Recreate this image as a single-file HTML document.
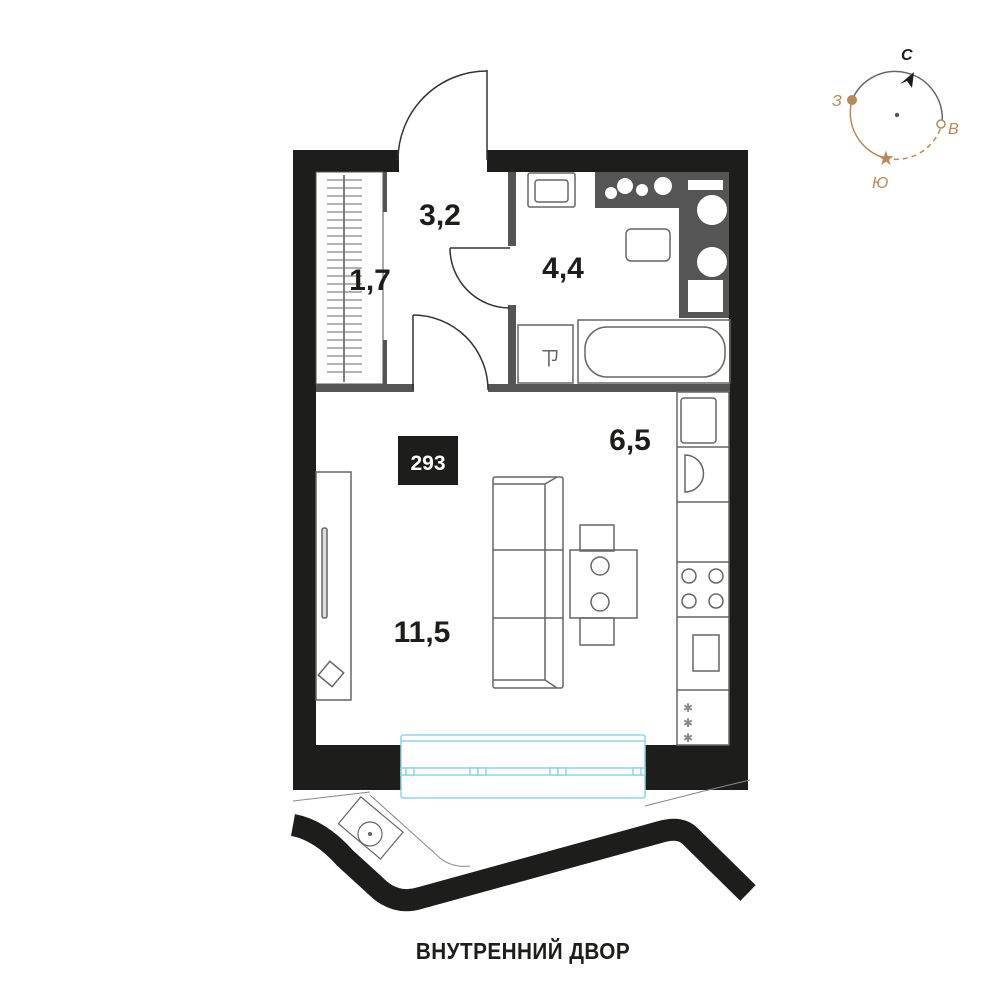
<!DOCTYPE html>
<html><head><meta charset="utf-8"><style>
html,body{margin:0;padding:0;background:#fff;width:1000px;height:1000px;overflow:hidden}
svg{display:block}
</style></head><body>
<svg width="1000" height="1000" viewBox="0 0 1000 1000" xmlns="http://www.w3.org/2000/svg">
<rect width="1000" height="1000" fill="#fff"/>
<g fill="#1d1d1b">
<rect x="293" y="150" width="106" height="22"/>
<rect x="487" y="150" width="261" height="22"/>
<rect x="293" y="150" width="23" height="640"/>
<rect x="729" y="150" width="19" height="640"/>
<rect x="293" y="745" width="108" height="45"/>
<rect x="644" y="745" width="104" height="45"/>
</g>
<g fill="#555">
<rect x="508" y="172" width="8" height="74"/>
<rect x="508" y="305" width="8" height="82"/>
<rect x="508" y="384" width="222" height="8"/>
<rect x="316" y="384" width="98" height="8"/>
<rect x="488" y="384" width="28" height="8"/>
<rect x="383" y="172" width="4" height="40"/>
<rect x="383" y="340" width="4" height="45"/>
</g>
<g fill="none" stroke="#333" stroke-width="1.5">
<line x1="487" y1="70" x2="487" y2="160"/>
<path d="M398 160 A89 89 0 0 1 487 71"/>
<path d="M450 248 A60 60 0 0 0 510 308"/>
<line x1="450" y1="248" x2="510" y2="248"/>
<line x1="413" y1="315" x2="413" y2="390"/>
<path d="M413 315 A75 75 0 0 1 488 390"/>
</g>
<g stroke="#555" stroke-width="1" fill="none">
<rect x="316" y="172" width="67" height="212"/>
<line x1="344" y1="175" x2="344" y2="382" stroke-width="1.5"/>
</g>
<g stroke="#666" stroke-width="1">
<path d="M327 180H362M327 188H362M327 196H362M327 204H362M327 212H362M327 220H362M327 228H362M327 236H362M327 244H362M327 252H362M327 260H362M327 268H362M327 276H362M327 284H362M327 292H362M327 300H362M327 308H362M327 316H362M327 324H362M327 332H362M327 340H362M327 348H362M327 356H362M327 364H362M327 372H362"/>
</g>
<g fill="none" stroke="#666" stroke-width="1.5">
<rect x="528" y="173" width="47" height="34" rx="2"/>
<rect x="535" y="180" width="33" height="22" rx="3"/>
<rect x="626" y="229" width="44" height="32" rx="5"/>
<rect x="518" y="325" width="55" height="58"/>
<rect x="578" y="320" width="152" height="63"/>
<rect x="585" y="327" width="140" height="50" rx="22"/>
</g>
<rect x="595" y="172" width="84" height="36" fill="#555"/>
<rect x="679" y="172" width="50" height="146" fill="#555"/>
<rect x="688" y="180" width="35" height="10" fill="#fff"/>
<rect x="688" y="280" width="35" height="32" fill="#fff"/>
<g fill="#fff">
<circle cx="611" cy="193" r="6"/><circle cx="625" cy="186" r="8"/>
<circle cx="642" cy="190" r="6"/><circle cx="663" cy="186" r="9"/>
<circle cx="712" cy="210" r="15"/><circle cx="712" cy="262" r="15"/>
</g>
<text x="540" y="365" font-family="Liberation Sans" font-size="20" fill="#666">ㄗ</text>
<g fill="none" stroke="#666" stroke-width="1.5">
<rect x="677" y="392" width="52" height="353"/>
<line x1="677" y1="447" x2="729" y2="447"/>
<line x1="677" y1="502" x2="729" y2="502"/>
<line x1="677" y1="562" x2="729" y2="562"/>
<line x1="677" y1="617" x2="729" y2="617"/>
<line x1="677" y1="690" x2="729" y2="690"/>
<rect x="681" y="398" width="35" height="45" rx="3"/>
<circle cx="689" cy="576" r="7"/><circle cx="716" cy="576" r="7"/>
<circle cx="689" cy="601" r="7"/><circle cx="716" cy="601" r="7"/>
<rect x="693" y="635" width="26" height="36"/>
<path d="M685 455 A18 18 0 0 1 685 492Z"/>
</g>
<g fill="#888" font-family="Liberation Sans" font-size="12"><text x="683" y="712">✱</text><text x="683" y="727">✱</text><text x="683" y="742">✱</text></g>
<g fill="none" stroke="#666" stroke-width="1.5">
<rect x="316" y="472" width="35" height="228"/>
<rect x="322" y="528" width="5" height="90" rx="2" fill="#ddd"/>
<rect x="322" y="665" width="18" height="18" transform="rotate(40 331 674)"/>
<rect x="493" y="477" width="70" height="211" rx="2"/>
<path d="M493 484H545L557 477M545 484V680L557 688M493 680H545"/>
<line x1="493" y1="550" x2="563" y2="550"/>
<line x1="493" y1="618" x2="563" y2="618"/>
<rect x="580" y="525" width="34" height="26"/>
<rect x="580" y="618" width="34" height="27"/>
<rect x="570" y="550" width="67" height="68"/>
<circle cx="600" cy="566" r="9"/><circle cx="600" cy="602" r="9"/>
</g>
<rect x="398" y="436" width="60" height="49" fill="#1d1d1b"/>
<text x="428" y="470" text-anchor="middle" font-family="Liberation Sans" font-weight="bold" font-size="21" fill="#fff">293</text>
<g font-family="Liberation Sans" font-weight="bold" font-size="30" fill="#1d1d1b" text-anchor="middle">
<text x="440" y="225">3,2</text>
<text x="370" y="290">1,7</text>
<text x="563" y="278">4,4</text>
<text x="630" y="450">6,5</text>
<text x="422" y="642">11,5</text>
</g>
<!-- balcony thin outlines -->
<g fill="none" stroke="#888" stroke-width="1">
<path d="M293 801 L370 792"/>
<path d="M370 795 L440 858 Q452 868 470 866"/>
<path d="M645 806 L700 792 L750 780"/>
</g>
<g fill="none" stroke="#666" stroke-width="1.2">
<rect x="343" y="810" width="55" height="35" transform="rotate(40 370 828)"/>
<circle cx="370" cy="834" r="12"/>
<circle cx="370" cy="834" r="1.5" fill="#666"/>
</g>
<path d="M293 825 Q320 830 345 858 L380 890 Q398 905 420 898 L660 832 Q680 826 690 836 L748 893" fill="none" stroke="#1d1d1b" stroke-width="22"/>
<g fill="#fff" stroke="#8fd3ea" stroke-width="1.5">
<rect x="401" y="735" width="244" height="63" rx="2"/>
<line x1="401" y1="741" x2="645" y2="741"/>
<rect x="401" y="768" width="244" height="7"/>
<rect x="406" y="768" width="8" height="7"/><rect x="470" y="768" width="8" height="7"/><rect x="478" y="768" width="8" height="7"/>
<rect x="550" y="768" width="8" height="7"/><rect x="558" y="768" width="8" height="7"/><rect x="633" y="768" width="8" height="7"/>
</g>
<text x="523" y="959" text-anchor="middle" font-family="Liberation Sans" font-size="23" font-weight="bold" fill="#1d1d1b" transform="translate(523 0) scale(0.9 1) translate(-523 0)" letter-spacing="0.5">ВНУТРЕННИЙ ДВОР</text>
<path d="M852 100 A47 47 0 0 1 942 123" fill="none" stroke="#666" stroke-width="1.5"/>
<path d="M852 100 A47 47 0 0 0 885 158" fill="none" stroke="#b58a5a" stroke-width="1.5"/>
<path d="M885 158 A47 47 0 0 0 942 123" fill="none" stroke="#b58a5a" stroke-width="1.5" stroke-dasharray="5 4"/>
<circle cx="852" cy="100" r="5" fill="#b58a5a"/>
<circle cx="941" cy="124" r="4" fill="#fff" stroke="#b58a5a" stroke-width="1.5"/>
<text x="886" y="165" text-anchor="middle" font-size="20" fill="#b58a5a">★</text>
<circle cx="897" cy="115" r="2.2" fill="#555"/>
<path d="M900 84 L914 72 L912 88 L907 81Z" fill="#1d1d1b"/>
<g font-family="Liberation Sans" font-style="italic" font-size="16" fill="#b58a5a">
<text x="832" y="106">З</text><text x="948" y="134">В</text><text x="872" y="188">Ю</text>
</g>
<text x="901" y="60" font-family="Liberation Sans" font-style="italic" font-weight="bold" font-size="16" fill="#1d1d1b">С</text>
</svg>
</body></html>
